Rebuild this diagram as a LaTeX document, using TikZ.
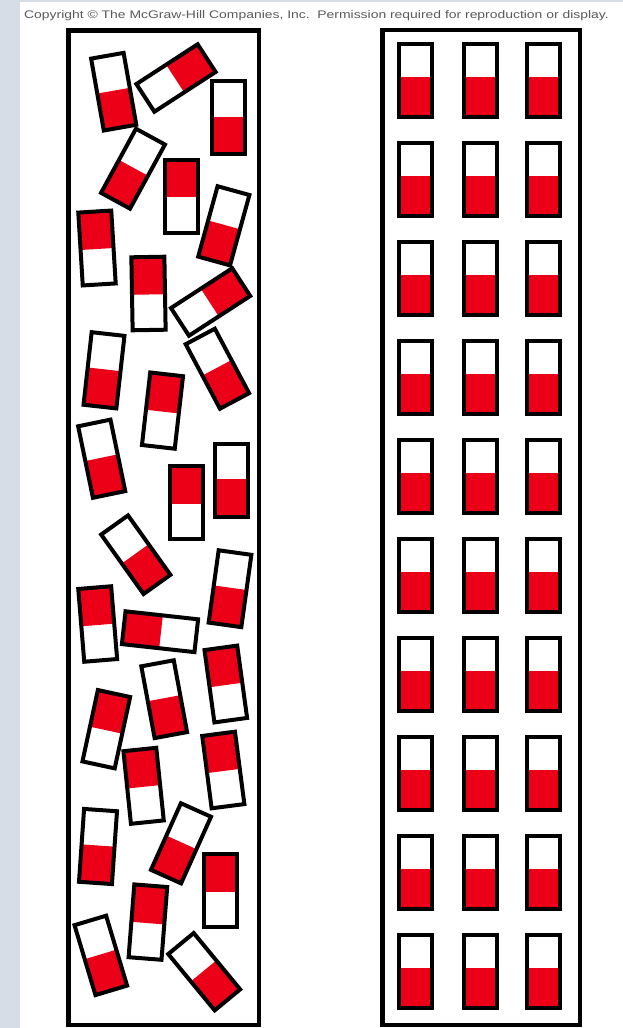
\documentclass[tikz,border=0pt]{standalone}
\usepackage{graphicx}
\usepackage{fontspec}
\setmainfont{Liberation Sans}
\definecolor{cellred}{RGB}{236,0,24}
\definecolor{stripblue}{RGB}{214,221,231}
\definecolor{captiongray}{RGB}{90,90,90}
\tikzset{
  cellframe/.style={draw=black, line width=4pt, line join=miter},
  boxframe/.style={draw=black, line width=4.5pt},
  redpart/.style={fill=cellred},
}
\newcommand{\domcell}[4]{%
  \begin{scope}[shift={(#1,#2)}, rotate=#3]
    \fill[redpart] (-16.5,#4) rectangle (16.5,36.5);
    \draw[cellframe] (-16.5,-36.5) rectangle (16.5,36.5);
  \end{scope}}
\begin{document}
\begin{tikzpicture}[x=1pt,y=-1pt]
\useasboundingbox (0,0) rectangle (623,1028);
\clip (0,0) rectangle (623,1028);
\fill[white] (0,0) rectangle (623,1028);
\fill[stripblue] (0,0) rectangle (20,1028);
\fill[stripblue] (0,0) rectangle (623,2);
\node[anchor=base west, inner sep=0pt, text=captiongray, font=\fontsize{11}{13}\selectfont] (caption) at (24,18.3)
  {\scalebox{1.265}[1]{Copyright © The McGraw-Hill Companies, Inc.\ \ Permission required for reproduction or display.}};
% containers
\draw[boxframe] (68.5,30.3) rectangle (259,1025);
\draw[boxframe] (382.5,30) rectangle (580,1025);
% disordered cells
\foreach \cx/\cy/\ang in {
  113.7/91.7/10, 176/78/123, 228/117.5/0,
  133/168.7/-28.6, 181/196/180, 223.8/225.8/-15.4,
  97/248/183.5, 148.5/293.5/181, 210.6/302/123,
  104/370.3/-6.4, 217.4/368.7/28, 162.5/410.6/173.5,
  101.7/458.7/11.7, 231.5/480/0, 186.5/502.5/180,
  135.8/554.7/35.5, 230/588.7/-7.9, 97.7/624/184.7,
  160/631.7/263.7, 225.8/684/187.8, 164.2/699.2/10.5,
  106.3/729.2/167.8, 143.6/785.8/185.9, 223.3/770/187.4,
  98/846.5/-4, 181/843.3/-24.2, 220/890.8/180,
  147.9/922.1/175.5, 100.8/955.4/16.7, 204.2/971.7/39.5}
  {\domcell{\cx}{\cy}{\ang}{-1}}
% ordered cells
\foreach \r in {0,...,9}
  \foreach \cx in {415.3,480.3,543}
    {\domcell{\cx}{80+99*\r}{0}{-3}}
\end{tikzpicture}
\end{document}
